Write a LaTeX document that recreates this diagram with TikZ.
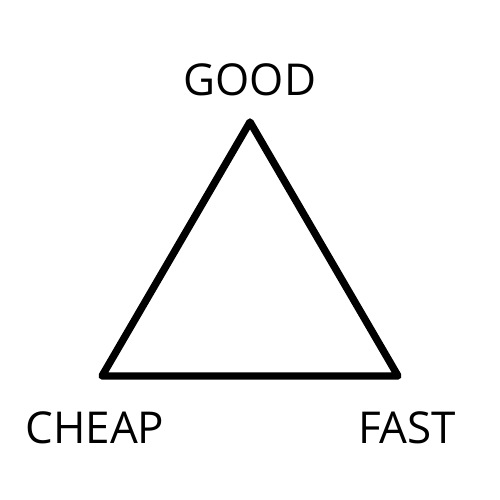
\documentclass[tikz,border=0pt]{standalone}
\usepackage{fontspec}
\setmainfont{Open Sans}
\usetikzlibrary{positioning}

\tikzset{
  corner/.style={font=\fontsize{25}{30}\selectfont, inner sep=0pt},
  edge/.style={line width=4.2pt, line join=round}
}

\begin{document}
\begin{tikzpicture}

\useasboundingbox (0,0) rectangle (10,10);

% Triangle corners
\coordinate (top) at (5,7.56);
\coordinate (left) at (2.04,2.48);
\coordinate (right) at (7.96,2.48);

% Labels
\node[corner] (good) at (5,8.4) {GOOD};
\node[corner] (cheap) at (1.9,1.44) {CHEAP};
\node[corner] (fast) at (8.14,1.44) {FAST};

% Triangle
\draw[edge] (top) -- (right) -- (left) -- cycle;

\end{tikzpicture}
\end{document}
